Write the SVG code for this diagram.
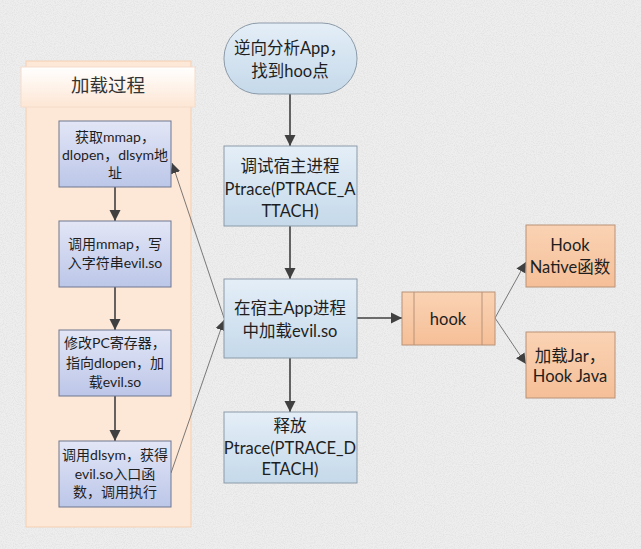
<svg xmlns="http://www.w3.org/2000/svg" width="641" height="549" viewBox="0 0 641 549">
<style>
text{font-family:"Lato","Liberation Sans","Noto Sans CJK SC",sans-serif;fill:#1e1e1e;text-anchor:middle}
.c{font-size:16.5px}
.l{font-size:14px}
.blue{fill:url(#gBlue);stroke:#8c9aa8;stroke-width:1}
.lav{fill:url(#gLav);stroke:#6f7890;stroke-width:1}
.org{fill:url(#gOrg);stroke:#b89278;stroke-width:1}
.main{stroke:#404040;stroke-width:1.6;fill:none;marker-end:url(#ah)}
.thin{stroke:#5a5a5a;stroke-width:0.8;fill:none;marker-end:url(#ah2)}
</style>
<defs>
<linearGradient id="gBlue" x1="0" y1="0" x2="0" y2="1"><stop offset="0" stop-color="#e4eef7"/><stop offset="1" stop-color="#c5d9ea"/></linearGradient>
<linearGradient id="gLav" x1="0" y1="0" x2="0" y2="1"><stop offset="0" stop-color="#e2e6f6"/><stop offset="1" stop-color="#bcc6e8"/></linearGradient>
<linearGradient id="gOrg" x1="0" y1="0" x2="0" y2="1"><stop offset="0" stop-color="#fad3b4"/><stop offset="1" stop-color="#f5bf98"/></linearGradient>
<linearGradient id="gHead" x1="0" y1="0" x2="0" y2="1"><stop offset="0" stop-color="#ffffff"/><stop offset="1" stop-color="#fde6d4"/></linearGradient>
<filter id="noise" x="0" y="0" width="100%" height="100%">
<feTurbulence type="fractalNoise" baseFrequency="0.9" numOctaves="2" seed="3" result="t"/>
<feColorMatrix in="t" type="matrix" values="0 0 0 0 0.55  0 0 0 0 0.55  0 0 0 0 0.55  0 0 0 -1.6 1.0" result="n"/>
<feComposite in="n" in2="SourceGraphic" operator="in"/>
</filter>
<marker id="ah" viewBox="0 0 10 10" refX="10" refY="5" markerWidth="7" markerHeight="7" markerUnits="strokeWidth" orient="auto"><path d="M0,0 L10,5 L0,10 z" fill="#404040"/></marker>
<marker id="ah2" viewBox="0 0 10 10" refX="10" refY="5" markerWidth="13" markerHeight="13" markerUnits="strokeWidth" orient="auto"><path d="M0,0 L10,5 L0,10 z" fill="#404040"/></marker>
</defs>
<rect width="641" height="549" fill="#eeeeee"/>
<rect width="641" height="549" fill="#eeeeee" filter="url(#noise)" opacity="0.35"/>

<g id="container">
<rect x="26" y="61" width="165" height="466" fill="#fde7d6" stroke="#f3cfb3" stroke-width="1"/>
<rect x="21" y="67" width="174" height="40" fill="url(#gHead)" stroke="#f3dccb" stroke-width="1"/>
<text x="108" y="92" style="font-size:18.5px;fill:#333">加载过程</text>
</g>

<g id="connectors">
<line class="main" x1="290" y1="94" x2="290" y2="146"/>
<line class="main" x1="290" y1="226" x2="290" y2="279"/>
<line class="main" x1="290" y1="358" x2="290" y2="412"/>
<line class="main" x1="357" y1="318" x2="402" y2="318"/>
<line class="main" x1="115" y1="187" x2="115" y2="221"/>
<line class="main" x1="115" y1="287" x2="115" y2="330"/>
<line class="main" x1="115" y1="396" x2="115" y2="441"/>
<line class="thin" x1="224" y1="318" x2="172" y2="163"/>
<line class="thin" x1="171" y1="473" x2="224" y2="320"/>
<line class="thin" x1="495" y1="318" x2="526" y2="262"/>
<line class="thin" x1="495" y1="318" x2="526" y2="364"/>
</g>

<g id="n1">
<rect class="lav" x="59" y="121" width="112" height="66"/>
<text class="l" x="115" y="142">获取mmap，</text>
<text class="l" x="115" y="160">dlopen，dlsym地</text>
<text class="l" x="115" y="178">址</text>
</g>
<g id="n2">
<rect class="lav" x="59" y="221" width="112" height="66"/>
<text class="l" x="115" y="249">调用mmap，写</text>
<text class="l" x="115" y="268">入字符串evil.so</text>
</g>
<g id="n3">
<rect class="lav" x="59" y="330" width="112" height="66"/>
<text class="l" x="115" y="348">修改PC寄存器，</text>
<text class="l" x="115" y="368">指向dlopen，加</text>
<text class="l" x="115" y="387">载evil.so</text>
</g>
<g id="n4">
<rect class="lav" x="59" y="441" width="112" height="66"/>
<text class="l" x="115" y="460">调用dlsym，获得</text>
<text class="l" x="115" y="479">evil.so入口函</text>
<text class="l" x="115" y="497">数，调用执行</text>
</g>

<g id="start">
<rect class="blue" x="224" y="23" width="133" height="71" rx="35" ry="35"/>
<text class="c" x="290" y="54">逆向分析App，</text>
<text class="c" x="290" y="77">找到hoo点</text>
</g>
<g id="attach">
<rect class="blue" x="224" y="146" width="133" height="80"/>
<text class="c" x="290" y="172">调试宿主进程</text>
<text class="c" x="290" y="195">Ptrace(PTRACE_A</text>
<text class="c" x="290" y="217">TTACH)</text>
</g>
<g id="load">
<rect class="blue" x="224" y="279" width="133" height="79"/>
<text class="c" x="290" y="314">在宿主App进程</text>
<text class="c" x="290" y="337">中加载evil.so</text>
</g>
<g id="detach">
<rect class="blue" x="224" y="412" width="133" height="71"/>
<text class="c" x="290" y="432">释放</text>
<text class="c" x="290" y="454">Ptrace(PTRACE_D</text>
<text class="c" x="290" y="475">ETACH)</text>
</g>
<g id="hook">
<rect class="org" x="402" y="292" width="93" height="53"/>
<line x1="414" y1="292" x2="414" y2="345" stroke="#b89278"/>
<line x1="482" y1="292" x2="482" y2="345" stroke="#b89278"/>
<text class="c" x="448" y="325">hook</text>
</g>
<g id="native">
<rect class="org" x="526" y="225" width="89" height="62"/>
<text class="c" x="570" y="251">Hook</text>
<text class="c" x="570" y="273">Native函数</text>
</g>
<g id="java">
<rect class="org" x="526" y="332" width="89" height="66"/>
<text class="c" x="570" y="362">加载Jar，</text>
<text class="c" x="570" y="382">Hook Java</text>
</g>
</svg>
